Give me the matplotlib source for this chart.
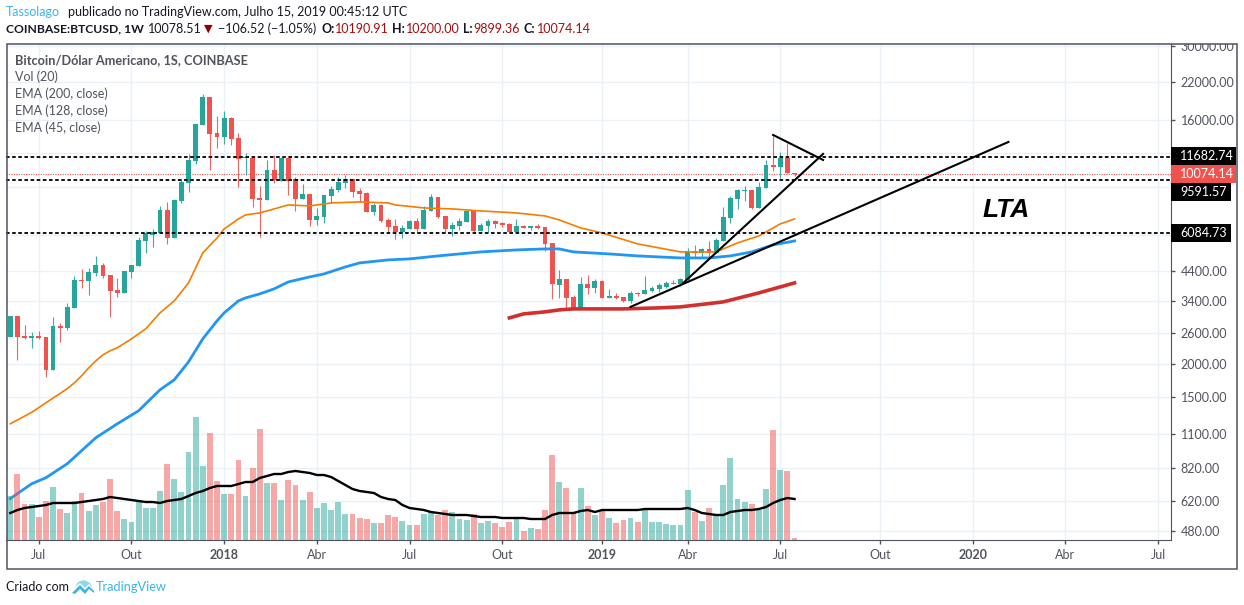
import matplotlib
matplotlib.use('Agg')
import matplotlib.pyplot as plt
from matplotlib.patches import Rectangle, Polygon
from matplotlib.transforms import Affine2D, Bbox

plt.rcParams['font.family'] = ['Lato', 'DejaVu Sans']

W, H = 1244, 605

# velas semanais, de 5 jun 2017 a 15 jul 2019
aberturas = [2512, 3005, 2534, 2490, 2534, 2512, 1896, 2759, 2712, 3217,
             4083, 4049, 4334, 4640, 4261, 3750, 3655, 4371, 4601, 5693,
             5992, 6095, 7415, 5840, 8006, 9333, 11259, 15301, 19425, 14293,
             13813, 16242, 13696, 11550, 11550, 8214, 8075, 10428, 9494, 11550,
             9657, 8144, 8498, 6809, 6985, 8355, 8793, 9333, 9657, 8718,
             8571, 7290, 7738, 6809, 6470, 6147, 6306, 6751, 6306, 7352,
             8284, 7045, 6306, 6470, 6694, 7352, 6200, 6470, 6751, 6637,
             6581, 6147, 6470, 6360, 6470, 6415, 5597, 3913, 4118, 3533,
             3189, 3946, 3814, 4049, 3503, 3563, 3533, 3414, 3655, 3624,
             3718, 3782, 3847, 3946, 3946, 4083, 5228, 5140, 5318, 5140,
             5693, 6926, 8144, 8718, 8793, 7543, 8944, 10881, 10697, 11550,
             10190.91]
maximos = [3005, 3005, 2782, 2621, 2644, 2512, 2980, 2830, 3357, 4225,
           4485, 4523, 5010, 4720, 4261, 4154, 4409, 4640, 5890, 6200,
           6306, 7672, 7938, 8144, 9657, 11951, 15432, 19930, 19425, 16521,
           17240, 16381, 14293, 12053, 11550, 9098, 11355, 11850, 11649, 11550,
           9823, 9254, 8498, 7543, 8426, 9098, 9823, 9992, 9657, 8944,
           8644, 7871, 7804, 6926, 6867, 6525, 6809, 6926, 7672, 8498,
           8284, 7045, 6694, 6926, 7415, 7352, 6637, 6867, 6809, 6694,
           6637, 6867, 6525, 6470, 6581, 6415, 5597, 4447, 4118, 3593,
           4189, 4261, 4118, 4083, 3782, 3655, 3533, 3718, 3686, 4225,
           3880, 3980, 4049, 4083, 4154, 5364, 5502, 5364, 5693, 5840,
           7607, 8355, 8868, 9098, 8793, 9413, 11355, 13932, 12156, 13125,
           10200.00]
minimos = [2512, 2065, 2470, 2288, 2470, 1787, 1896, 2407, 2666, 3217,
           3814, 3593, 4225, 4154, 2980, 3533, 3655, 4154, 4601, 5140,
           5410, 6095, 5549, 5840, 7871, 8644, 10975, 15301, 10428, 12578,
           13014, 12903, 9021, 9992, 7607, 5890, 8075, 9333, 9494, 8426,
           7352, 8144, 6470, 6525, 6637, 7871, 8644, 8944, 8284, 7938,
           7290, 7106, 6694, 6147, 5791, 5840, 6306, 6095, 6306, 7352,
           6926, 6095, 5941, 6253, 6694, 6147, 6200, 6147, 6360, 6415,
           6147, 6147, 6360, 6253, 6306, 5228, 3473, 3503, 3217, 3189,
           3189, 3624, 3655, 3503, 3503, 3473, 3385, 3357, 3563, 3624,
           3686, 3686, 3814, 3946, 3880, 4083, 4968, 4968, 4968, 5140,
           5693, 6637, 7479, 8006, 7479, 7543, 8944, 10339, 9739, 10164,
           9899.36]
fechamentos = [3005, 2512, 2490, 2534, 2490, 1896, 2759, 2712, 3244, 4083,
               4049, 4371, 4640, 4225, 3718, 3655, 4409, 4640, 5742, 6095,
               6147, 7415, 5840, 8075, 9413, 11355, 15432, 19425, 14171, 13813,
               16242, 13581, 11453, 11649, 8144, 8075, 10428, 9575, 11550, 9494,
               8144, 8498, 6809, 7045, 8426, 8868, 9413, 9657, 8644, 8498,
               7290, 7738, 6751, 6415, 6147, 6360, 6751, 6306, 7415, 8284,
               6985, 6306, 6525, 6751, 7352, 6200, 6525, 6751, 6581, 6525,
               6147, 6470, 6360, 6470, 6360, 5549, 3946, 4118, 3503, 3189,
               3946, 3814, 4049, 3503, 3563, 3503, 3414, 3655, 3624, 3750,
               3814, 3913, 3980, 3980, 4118, 5228, 5140, 5318, 5140, 5742,
               6985, 8214, 8793, 8793, 7543, 9021, 10881, 10697, 11550, 10164,
               10074.14]

# volume em unidades relativas
volumes = [44, 66, 36, 36, 23, 39, 53, 31, 27, 39,
           47, 29, 35, 38, 61, 29, 21, 18, 38, 32,
           32, 49, 76, 61, 48, 88, 123, 74, 107, 59,
           46, 46, 80, 44, 72, 111, 57, 57, 40, 60,
           55, 40, 48, 32, 37, 30, 38, 26, 26, 22,
           21, 17, 17, 25, 23, 19, 15, 15, 26, 28,
           25, 30, 28, 21, 20, 26, 17, 19, 17, 13,
           18, 21, 9, 12, 11, 30, 85, 58, 52, 27,
           52, 34, 25, 30, 22, 17, 20, 22, 18, 30,
           18, 18, 16, 15, 15, 50, 28, 19, 32, 25,
           55, 82, 41, 38, 36, 30, 51, 110, 70, 69,
           2]
vol_media = [27, 30, 32, 33, 34, 35, 37, 37, 37, 37,
             38, 39, 40, 41, 43, 42, 41, 40, 39, 38,
             38, 37, 39, 40, 41, 44, 47, 49, 52, 54,
             54, 54, 56, 58, 58, 62, 64, 66, 66, 68,
             69, 68, 67, 65, 65, 63, 59, 55, 51, 49,
             48, 47, 43, 41, 40, 35, 32, 31, 30, 28,
             27, 26, 25, 25, 25, 24, 23, 23, 23, 22,
             22, 22, 22, 21, 21, 21, 25, 27, 27, 27,
             29, 30, 28, 30, 30, 30, 30, 30, 30, 31,
             31, 31, 31, 31, 31, 32, 30, 27, 26, 25,
             25, 28, 29, 30, 30, 31, 33, 37, 40, 42,
             41]

ema45_sem = [0, 3, 5, 8, 9, 10, 11, 12, 13, 14, 15, 17, 19, 21, 23, 24, 25, 27, 29, 30, 32, 33, 35, 37, 39,
             42, 45, 49, 53, 54, 58, 62, 66, 71, 75, 77, 80, 83, 88, 91, 94, 97, 99, 102, 105, 108, 110]
ema45 = [1197, 1320, 1432, 1616, 1698, 1802, 1929, 2048, 2155, 2230, 2288, 2470, 2690, 3083, 3414, 3686,
         3980, 5140, 5840, 6306, 6867, 7106, 7228, 7479, 7738,
         7672, 7871, 7938, 7871, 7738, 7543, 7479, 7352, 7228, 7045, 6809, 6360, 6095, 5549, 5364,
         5184, 5184, 5184, 5597, 5941, 6581, 6867]

ema128_sem = [0, 1, 3, 5, 8, 10, 12, 15, 18, 21, 23, 25, 27, 29, 30, 32, 33, 35, 37, 39, 42, 44, 47, 49,
              53, 56, 60, 63, 66, 71, 75, 77, 79, 84, 88, 94, 98, 101, 104, 107, 110]
ema128 = [633, 660, 718, 756, 852, 952, 1063, 1197, 1338, 1600, 1742, 2030, 2470, 2880, 3083, 3414,
          3503, 3624, 3782, 4014, 4189, 4297, 4562, 4720, 4842, 4884, 5010, 5096, 5184, 5273, 5318,
          5318, 5184, 5096, 5010, 4925, 4925, 5010, 5184, 5502, 5693]

ema200_sem = [70, 72, 75, 77, 79, 86, 91, 94, 100, 105, 110]
ema200 = [2954, 3056, 3109, 3162, 3189, 3189, 3217, 3244, 3385, 3655, 3980]

niveis = [11682.74, 9591.57, 6084.73]
ultimo_preco = 10074.14

# linhas desenhadas a mao no grafico (semana, preco)
lta_sem, lta_preco = [87.0, 140.0], [3244, 13237]
suporte_sem, suporte_preco = [94.4, 114.0], [3980, 11951]
topo_sem, topo_preco = [107.0, 114.0], [14050, 11355]

ticks_semana = [4, 17, 30, 43, 56, 69, 83, 95, 108, 122, 135, 148, 161]
ticks_mes = ['Jul', 'Out', '2018', 'Abr', 'Jul', 'Out', '2019', 'Abr', 'Jul', 'Out', '2020', 'Abr', 'Jul']
ticks_preco = [30000, 22000, 16000, 12000, 9000, 6000, 4400, 3400, 2600, 2000, 1500, 1100, 820, 620, 480]
ocultos = [12000, 9000, 6000]

VERDE = '#26a69a'
VERMELHO = '#ef5350'
CINZA = '#50535e'
GRADE = '#e9f1f6'

fig = plt.figure(figsize=(W / 100, H / 100), dpi=100)
px = Affine2D().scale(1, -1).translate(0, H)  # coordenadas em pixels, origem no topo
pos = [6 / W, 1 - 540 / H, (1171 - 6) / W, (540 - 44) / H]

ax = fig.add_axes(pos)
ax.set_yscale('log')
ax.set_xlim(-0.6, 162.8)
ax.set_ylim(480 * 2.7183 ** (-9 / 117.3), 30000 * 2.7183 ** (2 / 117.3))

ax.yaxis.tick_right()
ax.set_yticks(ticks_preco)
ax.set_yticklabels(['' if p in ocultos else f'{p:.2f}' for p in ticks_preco])
ax.minorticks_off()
ax.set_xticks(ticks_semana)
ax.set_xticklabels(ticks_mes)
ax.tick_params(axis='both', length=3, width=1, color=CINZA, labelcolor=CINZA, labelsize=9, pad=4)
ax.tick_params(axis='x', pad=3.5)
ax.grid(True, color=GRADE, linewidth=1)
ax.set_axisbelow(True)
for s in ax.spines.values():
    s.set_visible(False)
ax.spines['right'].set_visible(True)
ax.spines['bottom'].set_visible(True)
ax.spines['right'].set_color(CINZA)
ax.spines['bottom'].set_color(CINZA)

for lab in ax.get_xticklabels():
    if lab.get_text() in ('2018', '2019', '2020'):
        lab.set_fontweight('bold')
for lab in ax.get_yticklabels():
    lab.set_clip_on(True)
    lab.set_clip_box(Bbox([[0, 0], [W, H - 44]]))

# velas
semanas = list(range(len(aberturas)))
for i in semanas:
    o, h, l, c = aberturas[i], maximos[i], minimos[i], fechamentos[i]
    cor = VERDE if c >= o else VERMELHO
    ax.vlines(i, l, h, color=cor, linewidth=0.8, alpha=0.9, zorder=3)
    ax.bar(i, abs(c - o), bottom=min(o, c), width=0.68, color=cor, linewidth=0, zorder=4)

ax.plot(ema45_sem, ema45, color='#f57c00', linewidth=1.2, zorder=5)
ax.plot(ema128_sem, ema128, color='#2196f3', linewidth=2.0, zorder=5)
ax.plot(ema200_sem, ema200, color='#d32f2f', linewidth=2.6, zorder=5)

# niveis horizontais e linhas de tendencia
for nivel in niveis:
    ax.axhline(nivel, color='black', linewidth=1.3, linestyle=(0, (2, 1.4)), zorder=6)
ax.axhline(ultimo_preco, color=VERMELHO, linewidth=0.8, linestyle=(0, (1, 1.2)), zorder=2)
ax.plot(lta_sem, lta_preco, color='black', linewidth=1.5, zorder=7)
ax.plot(suporte_sem, suporte_preco, color='black', linewidth=1.5, zorder=7)
ax.plot(topo_sem, topo_preco, color='black', linewidth=1.5, zorder=7)
ax.text(136.3, 7415, 'LTA', family='Liberation Sans', fontsize=19, fontweight='bold',
        fontstyle='italic', va='center', ha='left', zorder=8)

# volume
ax_vol = fig.add_axes(pos, facecolor='none')
ax_vol.set_xlim(ax.get_xlim())
ax_vol.set_ylim(0, 496)
ax_vol.axis('off')
cores_vol = [VERDE if fechamentos[i] >= aberturas[i] else VERMELHO for i in semanas]
ax_vol.bar(semanas, volumes, width=0.82, color=cores_vol, alpha=0.5, linewidth=0)
ax_vol.plot(semanas, vol_media, color='black', linewidth=1.7)

# moldura externa
fig.add_artist(Rectangle((6.5, 43.5), 1230, 525, transform=px, fill=False, edgecolor=CINZA, linewidth=1.1))


def texto(x, y, s, **kw):
    kw.setdefault('fontsize', 9)
    kw.setdefault('color', '#131722')
    fig.text(x, y, s, transform=px, va='center', ha='left', **kw)


# etiquetas de preco no eixo
etiquetas = [('11682.74', 'black', 147, 65), ('10074.14', VERMELHO, 165, 65),
             ('9591.57', 'black', 183, 60), ('6084.73', 'black', 224, 60)]
for txt, cor, topo, largura in etiquetas:
    fig.add_artist(Rectangle((1171, topo), largura, 18, transform=px, facecolor=cor, edgecolor='none'))
    texto(1180, topo + 9, txt, color='white')

# cabecalho
texto(6, 12, 'Tassolago', color='#3bb4e8')
texto(68, 12, 'publicado no TradingView.com, Julho 15, 2019 00:45:12 UTC')
texto(6, 29, 'COINBASE:BTCUSD, 1W', fontweight='bold', fontsize=8.7)
texto(148, 29, '10078.51')
texto(204, 29, '▼', color='#8b0000', fontsize=8, family='DejaVu Sans')
texto(218, 29, '−106.52 (−1.05%)')
for x, s in [(322, 'O:'), (392, 'H:'), (463, 'L:'), (524, 'C:')]:
    texto(x, 29, s, fontweight='bold')
for x, s in [(335, '10190.91'), (406, '10200.00'), (473, '9899.36'), (537, '10074.14')]:
    texto(x, 29, s, color='#a30f0f')

# legenda
texto(15, 60, 'Bitcoin/Dólar Americano, 1S, COINBASE', color=CINZA, fontweight='bold', fontsize=9.2)
for y, s in [(77, 'Vol (20)'), (94, 'EMA (200, close)'), (111, 'EMA (128, close)'), (128, 'EMA (45, close)')]:
    texto(15, y, s, color=CINZA)

# rodape
texto(6, 587, 'Criado com')
texto(96, 587, 'TradingView', color='#3bb4e8', fontsize=9.2)
fig.add_artist(Polygon([(72, 593), (80, 585), (85, 590), (89, 586), (94, 591), (94, 593), (89, 589), (85, 594), (80, 589), (75, 594)],
                       closed=True, transform=px, facecolor='#3bb4e8', edgecolor='none'))
fig.add_artist(Polygon([(75, 587), (78, 582), (84, 580), (90, 583), (93, 588), (89, 584), (85, 588), (80, 583)],
                       closed=True, transform=px, facecolor='#8fd6f5', edgecolor='none'))

fig.savefig('out.png', dpi=100)
